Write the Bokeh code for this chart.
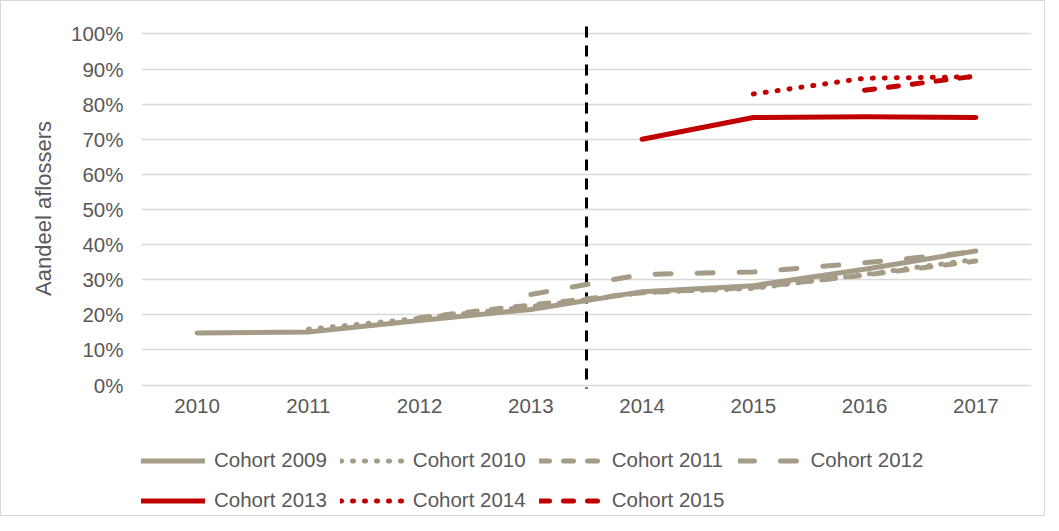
from bokeh.plotting import figure
from bokeh.models import Legend, LegendItem, FixedTicker, Range1d, NumeralTickFormatter
from bokeh.layouts import column
from bokeh.embed import file_html
from bokeh.resources import INLINE

# ---------------- data ----------------
years = [2010, 2011, 2012, 2013, 2014, 2015, 2016, 2017]

cohort_2009 = [0.148, 0.151, 0.184, 0.215, 0.266, 0.283, 0.330, 0.382]   # from 2010
cohort_2010 = [0.159, 0.190, 0.223, 0.263, 0.275, 0.315, 0.358]          # from 2011
cohort_2011 = [0.192, 0.228, 0.263, 0.278, 0.313, 0.353]                 # from 2012
cohort_2012 = [0.258, 0.315, 0.322, 0.348, 0.380]                        # from 2013
cohort_2013 = [0.700, 0.762, 0.764, 0.762]                               # from 2014
cohort_2014 = [0.829, 0.874, 0.878]                                      # from 2015
cohort_2015 = [0.840, 0.880]                                             # from 2016

y_ticks = [0.0, 0.1, 0.2, 0.3, 0.4, 0.5, 0.6, 0.7, 0.8, 0.9, 1.0]
split_year = 2013.5
split_extent = [1.021, -0.010]

series = [
    ("Cohort 2009", cohort_2009, "#A59C88", "solid"),
    ("Cohort 2010", cohort_2010, "#A59C88", "1 11"),
    ("Cohort 2011", cohort_2011, "#A59C88", "10 14"),
    ("Cohort 2012", cohort_2012, "#A59C88", "16 26"),
    ("Cohort 2013", cohort_2013, "#C00000", "solid"),
    ("Cohort 2014", cohort_2014, "#C00000", "1 11"),
    ("Cohort 2015", cohort_2015, "#C00000", "10 14"),
]

FONT = "Liberation Sans"
TXT = "#595959"

# ---------------- main chart ----------------
p = figure(frame_width=890, frame_height=370, output_backend="svg", toolbar_location=None,
           x_range=Range1d(2009.5, 2017.5), y_range=Range1d(-0.0242, 1.0299),
           min_border_left=140, min_border_right=13, min_border_top=22,
           min_border_bottom=40)
p.outline_line_color = None
p.background_fill_color = "white"
p.border_fill_color = "white"

p.xgrid.grid_line_color = None
p.ygrid.grid_line_color = "#D9D9D9"
p.ygrid.grid_line_width = 1.5
p.ygrid.ticker = FixedTicker(ticks=y_ticks)

p.xaxis.ticker = FixedTicker(ticks=years)
p.yaxis.ticker = FixedTicker(ticks=y_ticks)
p.yaxis.formatter = NumeralTickFormatter(format="0%")
for ax in (p.xaxis[0], p.yaxis[0]):
    ax.axis_line_color = None
    ax.major_tick_line_color = None
    ax.minor_tick_line_color = None
    ax.major_tick_out = 0
    ax.minor_tick_out = 0
    ax.major_label_text_font = FONT
    ax.major_label_text_font_size = "20.5px"
    ax.major_label_text_color = TXT
p.xaxis.major_label_standoff = 5
p.yaxis.major_label_standoff = 18
p.yaxis.axis_label = "Aandeel aflossers"
p.yaxis.axis_label_text_font = FONT
p.yaxis.axis_label_text_font_size = "22px"
p.yaxis.axis_label_text_font_style = "normal"
p.yaxis.axis_label_text_color = TXT
p.yaxis.axis_label_standoff = 12

# vertical split line
p.segment(x0=[split_year], y0=[split_extent[0]], x1=[split_year], y1=[split_extent[1]],
          line_color="black", line_width=3, line_dash="11 8")

for name, vals, color, dash in series:
    xs = years[len(years) - len(vals):]
    p.line(xs, vals, line_color=color, line_width=5, line_dash=dash,
           line_cap="round", line_join="round")

# ---------------- legend strip (frame aligned with main chart) ----------------
lf = figure(width=p.frame_width + 153, height=82, output_backend="svg", toolbar_location=None,
            x_range=Range1d(0, 1), y_range=Range1d(0, 1),
            x_axis_type=None, y_axis_type=None,
            min_border_left=140, min_border_right=13,
            min_border_top=0, min_border_bottom=0)
lf.outline_line_color = None
lf.xgrid.grid_line_color = None
lf.ygrid.grid_line_color = None

items = []
for name, vals, color, dash in series:
    xs = years[len(years) - len(vals):]
    # same series, drawn off-range: only its legend swatch is visible
    r = lf.line(xs, vals, line_color=color, line_width=5, line_dash=dash,
                line_cap="round", line_join="round")
    items.append(LegendItem(label=name, renderers=[r]))

legend = Legend(items=items, location=(0, 1.5), orientation="horizontal", ncols=4,
                background_fill_alpha=0, border_line_color=None,
                padding=0, margin=0, spacing=13,
                glyph_width=64, glyph_height=27, label_height=27,
                label_standoff=9, label_text_font=FONT,
                label_text_font_size="20.5px", label_text_color=TXT)
lf.add_layout(legend, "center")

layout = column(p, lf, spacing=0, styles={"border": "1px solid #D9D9D9"})

open("out.html", "w").write(file_html(layout, INLINE))
